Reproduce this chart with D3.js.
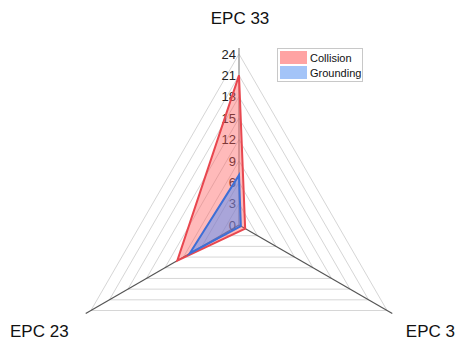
<!DOCTYPE html>
<html><head><meta charset="utf-8">
<script src="https://cdn.jsdelivr.net/npm/d3@7"></script>
<style>body{margin:0;background:#fff}svg{display:block;font-family:"Liberation Sans",Arial,sans-serif}</style>
</head><body>
<svg id="c" width="460" height="340"></svg>
<script>
const axesLabels = ["EPC 33", "EPC 3", "EPC 23"];
const tickValues = [0, 3, 6, 9, 12, 15, 18, 21, 24];
const seriesNames = ["Collision", "Grounding"];
const collision = [21, 1, 10];
const grounding = [7, 0.3, 8];

const svg = d3.select("#c");
const cx = 239, cy = 225;
const r = d3.scaleLinear().domain([0, 24]).range([0, 171]);
const axisLen = 177;
const ang = i => -Math.PI / 2 + i * 2 * Math.PI / 3;
const pt = (v, i, rad) => { const d = rad !== undefined ? rad : r(v); return [cx + d * Math.cos(ang(i)), cy + d * Math.sin(ang(i))]; };

// grid rings
const g = svg.append("g");
tickValues.slice(1).forEach(t => {
  g.append("polygon").attr("points", [0,1,2].map(i => pt(t, i).join(",")).join(" "))
    .attr("fill", "none").attr("stroke", "#d6d6d6").attr("stroke-width", 1);
});
// axes
[0,1,2].forEach(i => {
  const p = pt(0, i, axisLen);
  g.append("line").attr("x1", cx).attr("y1", cy).attr("x2", p[0]).attr("y2", p[1])
    .attr("stroke", i === 0 ? "#8a8a8a" : "#555").attr("stroke-width", 1.2);
});
// tick labels
svg.append("g").selectAll("text").data(tickValues).join("text")
  .attr("x", cx - 3).attr("y", d => cy - r(d)).attr("dy", "0.36em")
  .attr("text-anchor", "end").attr("font-size", 13).attr("fill", "#222")
  .text(d => d);

// series
const line = d3.line().curve(d3.curveLinearClosed);
const series = [
  {name: seriesNames[0], vals: collision, fill: "rgba(255,90,90,0.42)", stroke: "#e8474f"},
  {name: seriesNames[1], vals: grounding, fill: "rgba(64,140,255,0.45)", stroke: "#3d6fd6"}
];
series.forEach(s => {
  svg.append("path").attr("d", line(s.vals.map((v, i) => pt(v, i))))
    .attr("fill", s.fill).attr("stroke", s.stroke).attr("stroke-width", 2).attr("stroke-linejoin", "miter");
});

// axis labels
svg.append("text").attr("x", 240).attr("y", 24).attr("text-anchor", "middle").attr("font-size", 17).attr("fill", "#111").text(axesLabels[0]);
svg.append("text").attr("x", 10).attr("y", 337).attr("text-anchor", "start").attr("font-size", 17).attr("fill", "#111").text(axesLabels[2]);
svg.append("text").attr("x", 455).attr("y", 337).attr("text-anchor", "end").attr("font-size", 17).attr("fill", "#111").text(axesLabels[1]);

// legend
const lg = svg.append("g");
lg.append("rect").attr("x", 277.5).attr("y", 48.5).attr("width", 85).attr("height", 33)
  .attr("fill", "#fff").attr("stroke", "#c8c8c8");
const swatch = ["#ffa3a3", "#a3c4f8"];
seriesNames.forEach((n, i) => {
  lg.append("rect").attr("x", 280).attr("y", 51 + i * 15).attr("width", 27).attr("height", 13).attr("fill", swatch[i]);
  lg.append("text").attr("x", 310).attr("y", 58 + i * 15).attr("dy", "0.35em").attr("font-size", 11).attr("fill", "#111").text(n);
});
</script>
</body></html>
